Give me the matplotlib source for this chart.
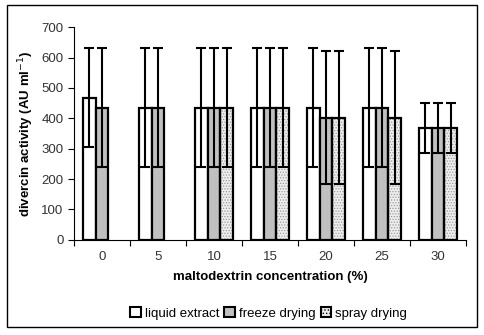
import numpy as np
import matplotlib
matplotlib.use("Agg")
import matplotlib.pyplot as plt
from matplotlib.patches import Rectangle

plt.rcParams['font.family'] = ['Liberation Sans', 'DejaVu Sans']
plt.rcParams['hatch.linewidth'] = 0.6

# data
concentrations = ['0', '5', '10', '15', '20', '25', '30']
liquid = [467, 435, 435, 435, 435, 435, 368]
liquid_lo = [305, 240, 240, 240, 240, 240, 286]
liquid_hi = [630, 630, 630, 630, 630, 630, 449]
freeze = [435, 435, 435, 435, 402, 435, 368]
freeze_lo = [240, 240, 240, 240, 184, 240, 286]
freeze_hi = [630, 630, 630, 630, 621, 630, 449]
spray = [np.nan, np.nan, 435, 435, 402, 402, 368]
spray_lo = [np.nan, np.nan, 240, 240, 184, 184, 286]
spray_hi = [np.nan, np.nan, 630, 630, 621, 621, 449]

fig = plt.figure(figsize=(4.84, 3.35), dpi=100)
ax = fig.add_axes([0.153, 0.284, 0.810, 0.635])

x = np.arange(len(concentrations))
w = 0.227


def draw(xpos, vals, lo, hi, color, hatch=None):
    vals = np.array(vals, float)
    ok = ~np.isnan(vals)
    if hatch:
        ax.bar(xpos[ok], vals[ok], w, color='#eeeeee', edgecolor='#9a9a9a',
               hatch=hatch, linewidth=0, zorder=2)
        ax.bar(xpos[ok], vals[ok], w, fill=False, edgecolor='black',
               linewidth=1.6, zorder=3)
    else:
        ax.bar(xpos[ok], vals[ok], w, color=color, edgecolor='black',
               linewidth=1.6, zorder=3)
    lo = np.array(lo, float)[ok]
    hi = np.array(hi, float)[ok]
    ax.errorbar(xpos[ok], vals[ok], yerr=[vals[ok] - lo, hi - vals[ok]],
                fmt='none', ecolor='black', elinewidth=1.5, capsize=3.5,
                capthick=1.5, zorder=4)


draw(x - w, liquid, liquid_lo, liquid_hi, 'white')
draw(x, freeze, freeze_lo, freeze_hi, '#c0c0c0')
draw(x + w, spray, spray_lo, spray_hi, None, hatch='......')

ax.set_xlim(-0.5, len(concentrations) - 0.5)
ax.set_ylim(0, 700)
ax.set_yticks(range(0, 701, 100))
ax.set_xticks(x)
ax.set_xticklabels(concentrations)
ax.set_xticks(np.arange(-0.5, len(concentrations), 1), minor=True)
ax.tick_params(axis='x', which='major', length=0, pad=8, labelsize=9.5, labelcolor='#333333')
ax.tick_params(axis='x', which='minor', length=4, direction='out', width=0.8)
ax.tick_params(axis='y', length=4, direction='out', labelsize=9.5, width=0.8, labelcolor='#333333')
for s in ['top', 'right']:
    ax.spines[s].set_visible(False)
for s in ['left', 'bottom']:
    ax.spines[s].set_linewidth(0.8)

ax.set_ylabel('divercin activity (AU ml$^{-1}$)', fontsize=9.5, fontweight='bold')
ax.set_xlabel('maltodextrin concentration (%)', fontsize=9.5, fontweight='bold', labelpad=6)

handles = [Rectangle((0, 0), 1, 1, facecolor='white', edgecolor='black', linewidth=1.5),
           Rectangle((0, 0), 1, 1, facecolor='#c0c0c0', edgecolor='black', linewidth=1.5),
           Rectangle((0, 0), 1, 1, facecolor='#eeeeee', edgecolor='black', hatch='.....', linewidth=1.5)]
fig.legend(handles, ['liquid extract', 'freeze drying', 'spray drying'],
           loc='center', bbox_to_anchor=(0.555, 0.065), ncol=3, frameon=False,
           fontsize=9.5, handlelength=0.8, handleheight=0.8, handletextpad=0.3,
           columnspacing=0.4)

fig.add_artist(Rectangle((7 / 484, 1 - 327 / 335), 470 / 484, 322 / 335,
                         transform=fig.transFigure, fill=False,
                         edgecolor='black', linewidth=1.0))

fig.savefig('out.png', dpi=100)
